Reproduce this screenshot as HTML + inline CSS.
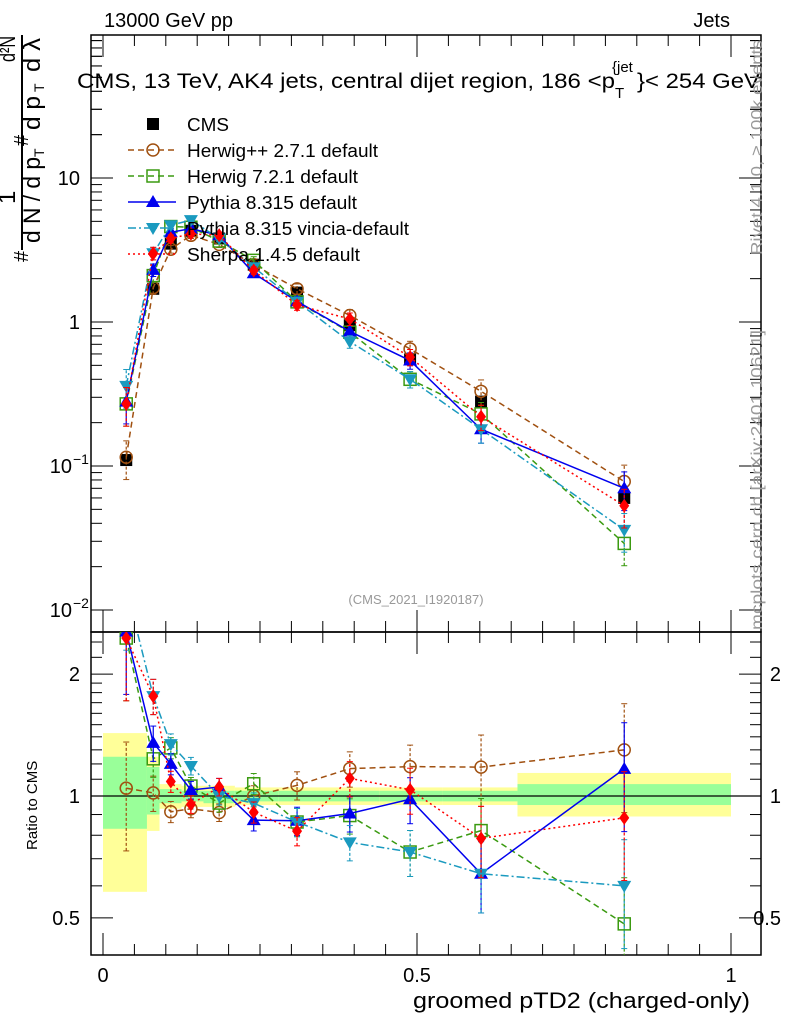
<!DOCTYPE html>
<html><head><meta charset="utf-8"><style>
body{margin:0;background:#fff;font-family:"Liberation Sans",sans-serif}
svg text{font-family:"Liberation Sans",sans-serif}
</style></head><body>
<svg id="c" width="786" height="1024" xmlns="http://www.w3.org/2000/svg"></svg>
<script>
const xCenters=[0.037,0.080,0.108,0.140,0.185,0.240,0.309,0.393,0.489,0.602,0.830];
const binEdges=[0,0.07,0.09,0.125,0.16,0.21,0.28,0.34,0.44,0.54,0.66,1.0];
const cmsVals=[0.11,1.7,3.5,4.3,3.8,2.5,1.6,0.95,0.55,0.28,0.06];
const cmsStatLo=[0.83,0.90,0.96,0.97,0.96,0.97,0.97,0.97,0.97,0.97,0.95];
const cmsStatHi=[1.25,1.18,1.04,1.03,1.03,1.03,1.03,1.03,1.03,1.03,1.07];
const cmsTotLo=[0.58,0.82,0.93,0.94,0.94,0.95,0.95,0.95,0.95,0.95,0.89];
const cmsTotHi=[1.43,1.25,1.07,1.06,1.06,1.05,1.05,1.05,1.05,1.05,1.14];
const herwigpp=[0.115,1.73,3.2,4.0,3.46,2.5,1.7,1.11,0.65,0.33,0.078];
const herwig7=[0.27,2.1,4.6,4.55,3.65,2.68,1.38,0.85,0.40,0.23,0.029];
const pythia=[0.28,2.3,4.2,4.45,4.0,2.18,1.39,0.86,0.54,0.18,0.07];
const vincia=[0.36,3.0,4.7,5.1,3.8,2.4,1.38,0.73,0.40,0.18,0.036];
const sherpa=[0.27,3.0,3.8,4.1,4.0,2.28,1.31,1.05,0.57,0.22,0.053];
const relErr=[0.3,0.1,0.06,0.05,0.05,0.06,0.08,0.1,0.13,0.2,0.3];
const ratioTicks=[0.5,1,2];
const xTicks=[0,0.5,1];

const NS="http://www.w3.org/2000/svg";
const svg=document.getElementById('c');
function el(tag,attrs,parent){const e=document.createElementNS(NS,tag);for(const k in attrs)e.setAttribute(k,attrs[k]);(parent||svg).appendChild(e);return e;}
const L=91,R=761,T=35,M=632,B=955;
const X=v=>103+628*v;
const Y=v=>322-144*Math.log10(v);
const YR=r=>796-405*Math.log10(r);
const clipM=el('clipPath',{id:'cm'});el('rect',{x:L,y:T,width:R-L,height:M-T},clipM);
const clipR=el('clipPath',{id:'cr'});el('rect',{x:L,y:M,width:R-L,height:B-M},clipR);

const bands=el('g',{'clip-path':'url(#cr)'});

for(let i=0;i<cmsVals.length;i++){
 const x0=X(binEdges[i]),x1=X(binEdges[i+1]);
 const r1=el('rect',{x:x0,y:YR(cmsTotHi[i]),width:x1-x0,height:YR(cmsTotLo[i])-YR(cmsTotHi[i]),fill:'#ffff99'},bands);
 
 const r2=el('rect',{x:x0,y:YR(cmsStatHi[i]),width:x1-x0,height:YR(cmsStatLo[i])-YR(cmsStatHi[i]),fill:'#99ff99'},bands);
 
}
el('line',{x1:L,x2:R,y1:YR(1),y2:YR(1),stroke:'#000','stroke-width':1.2});

el('rect',{x:L,y:T,width:R-L,height:M-T,fill:'none',stroke:'#000','stroke-width':1.5});
el('rect',{x:L,y:M,width:R-L,height:B-M,fill:'none',stroke:'#000','stroke-width':1.5});
for(let d=-2;d<=1;d++){for(let k=1;k<10;k++){const v=k*Math.pow(10,d);const y=Y(v);if(y<T||y>M)continue;const len=k==1?22:11;
 el('line',{x1:L,x2:L+len,y1:y,y2:y,stroke:'#000'});el('line',{x1:R,x2:R-len,y1:y,y2:y,stroke:'#000'});}}
[20,30,40,50,60,70,80,90].forEach(v=>{const y=Y(v);if(y>=T){el('line',{x1:L,x2:L+11,y1:y,y2:y,stroke:'#000'});el('line',{x1:R,x2:R-11,y1:y,y2:y,stroke:'#000'});}});
const yl=[[10,'10',''],[1,'1',''],[0.1,'10','−1'],[0.01,'10','−2']];
yl.forEach(a=>{const t=el('text',{x:a[2]?72:80,y:Y(a[0])+7,'font-size':20,'text-anchor':'end'});t.textContent=a[1];
 
 if(a[2]){const s=el('text',{x:73,y:Y(a[0])-2,'font-size':14});s.textContent=a[2];}});
function xt(y0,dir){for(let v=0;v<=1.0001;v+=0.05){const big=Math.abs(v*10-Math.round(v*10))<1e-6&&Math.round(v*10)%5==0;const len=big?22:11;const x=X(v);
 el('line',{x1:x,x2:x,y1:y0,y2:y0+dir*len,stroke:'#000'});}}
xt(T,1);xt(M,-1);xt(M,1);xt(B,-1);
xTicks.forEach(v=>{const t=el('text',{x:X(v),y:982,'font-size':20,'text-anchor':'middle'});t.textContent=String(v);
 });
[0.5,0.6,0.7,0.8,0.9,1,1.1,1.2,1.3,1.4,1.5,1.6,1.7,1.8,1.9,2,2.2,2.4].forEach(r=>{const y=YR(r);if(y<M||y>B)return;const big=ratioTicks.includes(r);const len=big?22:11;
 el('line',{x1:L,x2:L+len,y1:y,y2:y,stroke:'#000'});el('line',{x1:R,x2:R-len,y1:y,y2:y,stroke:'#000'});});
ratioTicks.forEach(r=>{const t=el('text',{x:80,y:YR(r)+7,'font-size':20,'text-anchor':'end'});t.textContent=String(r);
 
 const t2=el('text',{x:781,y:YR(r)+7,'font-size':20,'text-anchor':'end'});t2.textContent=String(r);
 });

const series=[
 {name:'herwigpp',vals:herwigpp,col:'#a05010',dash:'6,4',mk:'circle'},
 {name:'herwig7',vals:herwig7,col:'#3a9a10',dash:'6,4',mk:'square'},
 {name:'pythia',vals:pythia,col:'#0000ee',dash:'',mk:'tri'},
 {name:'vincia',vals:vincia,col:'#1a9abf',dash:'8,3,2,3',mk:'tridown'},
 {name:'sherpa',vals:sherpa,col:'#ff0000',dash:'2,3',mk:'diamond'}];
function marker(g,mk,x,y,col){let e;
 if(mk=='circle')e=el('circle',{cx:x,cy:y,r:6,fill:'none',stroke:col,'stroke-width':1.5},g);
 else if(mk=='square')e=el('rect',{x:x-6,y:y-6,width:12,height:12,fill:'none',stroke:col,'stroke-width':1.5},g);
 else if(mk=='tri')e=el('path',{d:`M${x},${y-7}L${x+7},${y+5}L${x-7},${y+5}Z`,fill:col},g);
 else if(mk=='tridown')e=el('path',{d:`M${x},${y+7}L${x+7},${y-5}L${x-7},${y-5}Z`,fill:col},g);
 else if(mk=='diamond')e=el('path',{d:`M${x},${y-7}L${x+5},${y}L${x},${y+7}L${x-5},${y}Z`,fill:col},g);
 else e=el('rect',{x:x-6,y:y-6,width:12,height:12,fill:col},g);
 return e;}
const gc=el('g',{'clip-path':'url(#cm)'});
cmsVals.forEach((v,i)=>{const m=marker(gc,'sq',X(xCenters[i]),Y(v),'#000');});
series.forEach(s=>{
 ['main','ratio'].forEach(panel=>{
  const g=el('g',{'clip-path':panel=='main'?'url(#cm)':'url(#cr)'});
  
  const fy=(v,i)=>panel=='main'?Y(v):YR(v/cmsVals[i]);
  const pts=s.vals.map((v,i)=>X(xCenters[i])+','+fy(v,i)).join(' ');
  el('polyline',{points:pts,fill:'none',stroke:s.col,'stroke-width':1.5,'stroke-dasharray':s.dash},g);
  s.vals.forEach((v,i)=>{const x=X(xCenters[i]);const lo=v*(1-relErr[i]),hi=v*(1+relErr[i]);
   el('line',{x1:x,x2:x,y1:fy(lo,i),y2:fy(hi,i),stroke:s.col,'stroke-width':1.2,'stroke-dasharray':s.dash?'3,2':''},g);
   el('line',{x1:x-3,x2:x+3,y1:fy(lo,i),y2:fy(lo,i),stroke:s.col},g);
   el('line',{x1:x-3,x2:x+3,y1:fy(hi,i),y2:fy(hi,i),stroke:s.col},g);
   const m=marker(g,s.mk,x,fy(v,i),s.col);});
 });
});

const legend=[['CMS','#000','','sq'],['Herwig++ 2.7.1 default','#a05010','6,4','circle'],['Herwig 7.2.1 default','#3a9a10','6,4','square'],['Pythia 8.315 default','#0000ee','','tri'],['Pythia 8.315 vincia-default','#1a9abf','8,3,2,3','tridown'],['Sherpa 1.4.5 default','#ff0000','2,3','diamond']];
const legendW=[42,191,171,170,222,173];
legend.forEach((l,i)=>{const y=124+26*i;const g=el('g',{});
 
 if(i>0)el('line',{x1:128,x2:176,y1:y,y2:y,stroke:l[1],'stroke-width':1.5,'stroke-dasharray':l[2]},g);
 marker(g,l[3],153,y,l[1]);
 const t=el('text',{x:187,y:y+7,'font-size':18,textLength:legendW[i],lengthAdjust:'spacingAndGlyphs'},g);t.textContent=l[0];});

function txt(s,attrs,name){const t=el('text',attrs);t.textContent=s;return t;}
txt('13000 GeV pp',{x:104,y:27,'font-size':20},'beam-label');
txt('Jets',{x:730,y:27,'font-size':20,'text-anchor':'end'},'process-label');
txt('CMS, 13 TeV, AK4 jets, central dijet region, 186 <p',{x:77,y:88,'font-size':21,textLength:538,lengthAdjust:'spacingAndGlyphs'},'plot-title');
txt('T',{x:615,y:98,'font-size':15},'title-sub');
txt('{jet',{x:612,y:72,'font-size':15},'title-sup');
txt('}< 254 GeV',{x:637,y:88,'font-size':21,textLength:123,lengthAdjust:'spacingAndGlyphs'},'title-end');
txt('(CMS_2021_I1920187)',{x:416,y:604,'font-size':13,fill:'#999','text-anchor':'middle'},'analysis-id');
txt('groomed pTD2 (charged-only)',{x:750,y:1008,'font-size':22,'text-anchor':'end',textLength:337,lengthAdjust:'spacingAndGlyphs'},'x-axis-title');
txt('Ratio to CMS',{x:0,y:0,'font-size':15,transform:'translate(37,850) rotate(-90)'},'ratio-y-title');
txt('Rivet 4.1.0, ≥ 100k events',{x:0,y:0,'font-size':16,fill:'#999',transform:'translate(762,255) rotate(-90)',textLength:215,lengthAdjust:'spacingAndGlyphs'},'rivet-label');
txt('mcplots.cern.ch [arXiv:2401.10621]',{x:0,y:0,'font-size':16,fill:'#999',transform:'translate(762,630) rotate(-90)',textLength:300,lengthAdjust:'spacingAndGlyphs'},'mcplots-label');

const yt=el('g',{});
el('line',{x1:22,x2:22,y1:35,y2:250,stroke:'#000','stroke-width':2},yt);
function rt(s,x,y,fs,len){const a={'font-size':fs,transform:`translate(${x},${y}) rotate(-90)`};if(len){a.textLength=len;a.lengthAdjust='spacingAndGlyphs';}const t=el('text',a,yt);t.textContent=s;}
rt('#',28,262,20);
rt('1',15,204,24);
rt('d²N',15,62,22,26);
rt('d N / d p',40,243,24,86);
rt('T',44,157,14);
rt('#',28,146,20);
rt('d p',40,130,24,34);
rt('T',44,92,14);
rt('d λ',40,72,24,34);
</script>
</body></html>
